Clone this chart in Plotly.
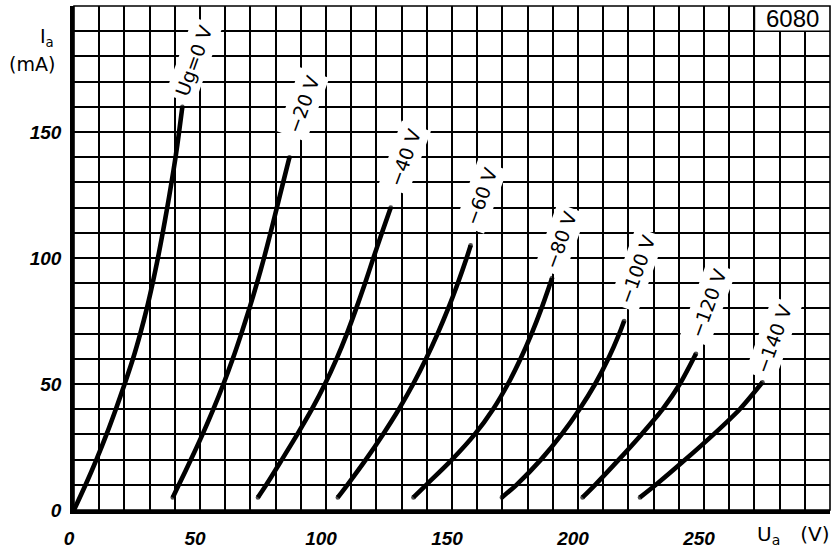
import plotly.graph_objects as go

# ---------------- data ----------------
ug0_va = [0, 4.6, 8.9, 12.9, 16.6, 20.1, 23.4, 26.3, 28.9, 31.2, 33.3,
          35.2, 37.0, 38.7, 40.3, 41.7, 43.0]
ug0_ia = [0, 10, 20, 30, 40, 50, 60, 70, 80, 90, 100,
          110, 120, 130, 140, 150, 160]

ug20_va = [39.2, 41.6, 46.4, 51.0, 55.3, 59.3, 63.0, 66.4, 69.6, 72.6, 75.4,
           78.0, 80.5, 83.0, 85.5]
ug20_ia = [5, 10, 20, 30, 40, 50, 60, 70, 80, 90, 100,
           110, 120, 130, 140]

ug40_va = [73.0, 76.3, 82.5, 88.6, 94.4, 99.6, 104.2, 108.3, 112.0, 115.5,
           118.8, 122.2, 125.7]
ug40_ia = [5, 10, 20, 30, 40, 50, 60, 70, 80, 90, 100, 110, 120]

ug60_va = [104.7, 108.5, 115.8, 122.6, 128.9, 134.6, 139.7, 144.3, 148.5,
           152.3, 155.8, 157.4]
ug60_ia = [5, 10, 20, 30, 40, 50, 60, 70, 80, 90, 100, 105]

ug80_va = [134.7, 139.8, 150.0, 159.0, 166.3, 172.2, 177.2, 181.6, 185.5, 189.7]
ug80_ia = [5, 10, 20, 30, 40, 50, 60, 70, 80, 92]

ug100_va = [169.8, 175.6, 185.3, 193.5, 200.6, 206.8, 212.0, 216.4, 218.3]
ug100_ia = [5, 10, 20, 30, 40, 50, 60, 70, 75]

ug120_va = [201.8, 206.8, 216.2, 225.2, 233.6, 240.4, 246.8]
ug120_ia = [5, 10, 20, 30, 40, 50, 62]

ug140_va = [224.6, 230.9, 242.6, 253.8, 264.2, 273.2]
ug140_ia = [5, 10, 20, 30, 40, 50.7]

curve_labels = ["Ug=0 V", "\u221220 V", "\u221240 V", "\u221260 V",
                "\u221280 V", "\u2212100 V", "\u2212120 V", "\u2212140 V"]

x_tick_values = [0, 50, 100, 150, 200, 250]
x_tick_labels = ["0", "50", "100", "150", "200", "250"]
y_tick_values = [0, 50, 100, 150]
y_tick_labels = ["0", "50", "100", "150"]

tube_name = "6080"

# ---------------- layout geometry ----------------
W, H = 835, 554
ML, MR, MT, MB = 74, 5, 6, 39
PW, PH = W - ML - MR, H - MT - MB
X_MAX, Y_MAX = 300, 200


def px2paper(px, py):
    return (px - ML) / PW, (H - MB - py) / PH


def px2data(px, py):
    return (px - ML) / PW * X_MAX, (H - MB - py) / PH * Y_MAX


fig = go.Figure()

series = [(ug0_va, ug0_ia), (ug20_va, ug20_ia), (ug40_va, ug40_ia),
          (ug60_va, ug60_ia), (ug80_va, ug80_ia), (ug100_va, ug100_ia),
          (ug120_va, ug120_ia), (ug140_va, ug140_ia)]

for va, ia in series:
    n = len(va)
    fig.add_trace(go.Scatter(
        x=va, y=ia, mode="lines+markers",
        line=dict(color="black", width=4.6, shape="spline", smoothing=0.8),
        marker=dict(size=[4.6] + [0] * (n - 2) + [4.6], color="black",
                    line=dict(width=0)),
        hoverinfo="skip", showlegend=False, cliponaxis=False))

grid_x = list(range(0, X_MAX + 1, 10))
grid_y = list(range(0, Y_MAX + 1, 10))
xt = [x_tick_labels[x_tick_values.index(v)] if v in x_tick_values else " " for v in grid_x]
yt = [y_tick_labels[y_tick_values.index(v)] if v in y_tick_values else " " for v in grid_y]

tickfont = dict(family="Liberation Sans", size=19, color="black",
                style="italic", weight="bold")

fig.update_xaxes(range=[0, X_MAX], tickmode="array", tickvals=grid_x, ticktext=xt,
                 showgrid=True, gridcolor="black", gridwidth=1.6,
                 showline=True, linecolor="black", linewidth=3.5,
                 zeroline=False, ticks="", tickfont=tickfont,
                 ticklabelstandoff=8, ticklabelshift=-5, fixedrange=True)
fig.update_yaxes(range=[0, Y_MAX], tickmode="array", tickvals=grid_y, ticktext=yt,
                 showgrid=True, gridcolor="black", gridwidth=1.6,
                 showline=True, linecolor="black", linewidth=3.5,
                 zeroline=False, ticks="", tickfont=tickfont,
                 ticklabelstandoff=5, fixedrange=True)

# thin frame on top/right
fig.add_shape(type="rect", xref="paper", yref="paper", x0=0, x1=1, y0=0, y1=1,
              line=dict(color="black", width=1.6), layer="above")
# tube type box
fig.add_shape(type="rect", x0=270, x1=300, y0=190, y1=200,
              fillcolor="white", line=dict(color="black", width=1.6), layer="above")

annotations = []
annotations.append(dict(x=285, y=195, text=tube_name, showarrow=False,
                        font=dict(family="Liberation Sans", size=24, color="black")))

label_px = [(194, 62), (303, 106), (405, 160), (481, 199),
            (560, 243), (637, 273), (708, 307), (773, 343)]
for txt, (px, py) in zip(curve_labels, label_px):
    x, y = px2data(px, py)
    annotations.append(dict(x=x, y=y, text=txt, showarrow=False, textangle=-70,
                            font=dict(family="DejaVu Sans", size=19, color="black"),
                            bgcolor="white", borderpad=4))

axis_font = dict(family="DejaVu Sans", size=19, color="black")
xa, ya = px2paper(56, 38)
annotations.append(dict(xref="paper", yref="paper", x=xa, y=ya, xanchor="right",
                        yanchor="middle", text="I<sub>a</sub>", showarrow=False,
                        font=axis_font))
xa, ya = px2paper(32, 65)
annotations.append(dict(xref="paper", yref="paper", x=xa, y=ya, xanchor="center",
                        yanchor="middle", text="(mA)", showarrow=False,
                        font=axis_font))
xa, ya = px2paper(832, 540)
annotations.append(dict(xref="paper", yref="paper", x=xa, y=ya, xanchor="right",
                        yanchor="middle", text="U<sub>a</sub>\u2002\u2002(V)",
                        showarrow=False, font=dict(family="DejaVu Sans", size=20,
                                                   color="black")))

fig.update_layout(width=W, height=H, autosize=False,
                  margin=dict(l=ML, r=MR, t=MT, b=MB, pad=0),
                  paper_bgcolor="white", plot_bgcolor="white",
                  annotations=annotations, showlegend=False)

fig.write_html("out.html", config={"displayModeBar": False},
               post_script="document.body.style.margin='0';document.body.style.overflow='hidden';")
